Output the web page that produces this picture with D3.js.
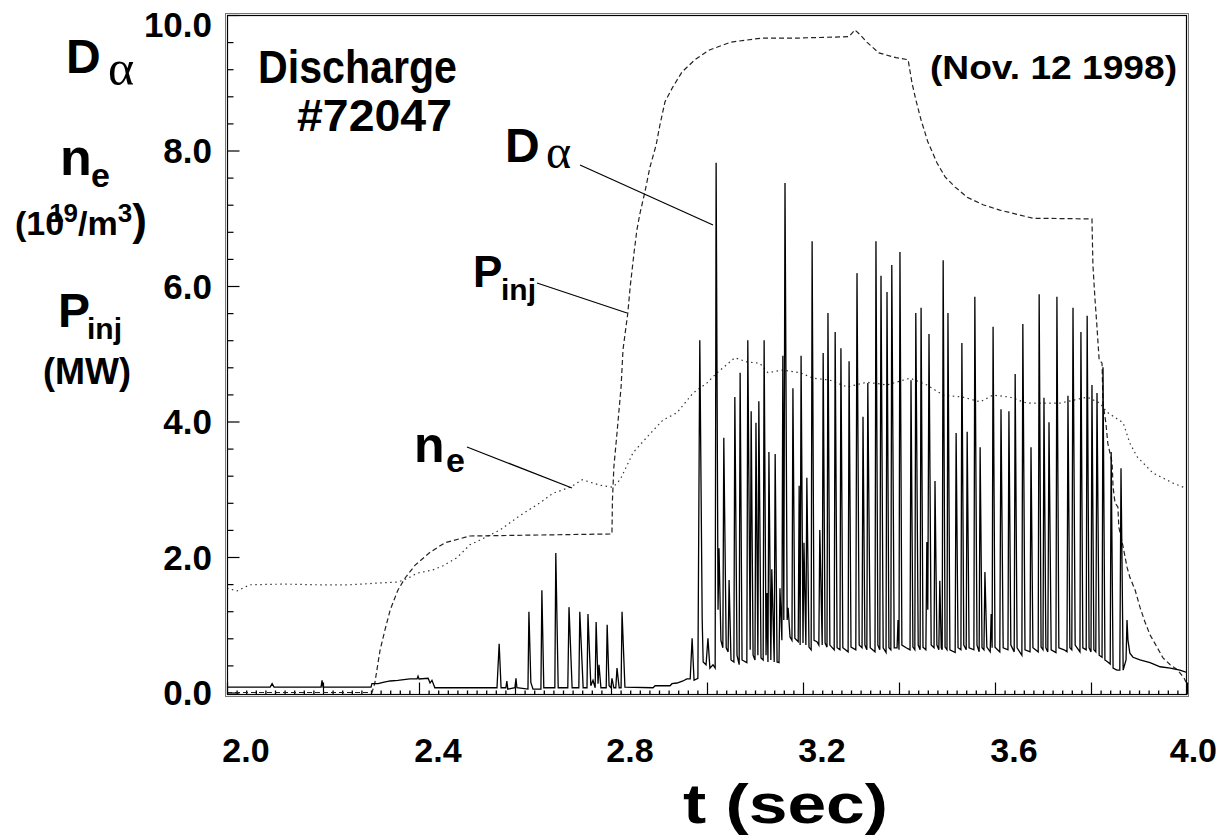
<!DOCTYPE html>
<html>
<head>
<meta charset="utf-8">
<script src="https://cdn.jsdelivr.net/npm/d3@7"></script>
<style>
  body { margin: 0; background: #fff; }
  svg { display: block; }
  text { font-family: "Liberation Sans", Arial, Helvetica, sans-serif; font-weight: bold; fill: #000; }
  .greek { font-family: "Liberation Serif", "DejaVu Serif", serif; font-weight: normal; }
</style>
</head>
<body>
<svg id="chart" width="1218" height="835"></svg>
<script>
// Discharge #72047 — neutral beam power, line-averaged density and D-alpha vs time

// Injected beam power P_inj (MW): [t (s), value]
const pinj = [
  [2.000,0],[2.302,0],[2.308,0.14],[2.319,0.63],[2.329,0.92],[2.340,1.22],[2.356,1.51],
  [2.371,1.69],[2.392,1.88],[2.423,2.07],[2.454,2.21],[2.506,2.31],[2.802,2.34],[2.803,2.84],
  [2.806,3.33],[2.8125,3.83],[2.821,4.51],[2.825,5.06],[2.835,5.60],[2.840,5.99],[2.848,6.49],
  [2.854,6.83],[2.860,7.06],[2.871,7.40],[2.881,7.75],[2.894,8.08],[2.902,8.38],[2.9125,8.72],
  [2.929,8.94],[2.948,9.16],[2.975,9.34],[3.004,9.48],[3.050,9.60],[3.115,9.66],[3.190,9.66],
  [3.296,9.68],[3.308,9.78],[3.319,9.71],[3.333,9.60],[3.358,9.44],[3.394,9.37],[3.419,9.34],
  [3.427,9.00],[3.435,8.75],[3.446,8.45],[3.460,8.13],[3.479,7.82],[3.496,7.61],[3.517,7.46],
  [3.542,7.31],[3.575,7.20],[3.610,7.12],[3.679,7.00],[3.802,6.99],[3.804,6.31],[3.808,5.84],
  [3.8125,5.39],[3.817,4.91],[3.823,4.86],[3.825,4.27],[3.831,3.98],[3.835,3.68],[3.844,3.39],
  [3.846,3.03],[3.850,2.80],[3.856,2.74],[3.858,2.44],[3.867,2.15],[3.875,1.85],[3.881,1.70],
  [3.892,1.51],[3.902,1.26],[3.9125,1.04],[3.923,0.85],[3.9375,0.67],[3.950,0.51],[3.965,0.41],
  [3.981,0.33],[3.994,0.21],[3.998,0.15]
];

// Line-averaged electron density n_e (10^19 m^-3): [t (s), value]
const density = [
  [2.000,1.54],[2.021,1.50],[2.048,1.59],[2.117,1.60],[2.188,1.59],[2.256,1.59],[2.325,1.62],
  [2.356,1.63],[2.375,1.68],[2.396,1.76],[2.429,1.81],[2.450,1.87],[2.479,1.99],[2.506,2.18],
  [2.527,2.25],[2.569,2.40],[2.610,2.61],[2.652,2.80],[2.679,2.94],[2.715,3.03],[2.740,3.14],
  [2.777,3.06],[2.804,3.03],[2.819,3.14],[2.846,3.54],[2.875,3.77],[2.908,4.02],[2.9375,4.13],
  [2.971,4.42],[3.000,4.57],[3.021,4.72],[3.058,4.94],[3.083,4.88],[3.110,4.86],[3.127,4.72],
  [3.158,4.76],[3.194,4.72],[3.221,4.64],[3.256,4.61],[3.292,4.51],[3.333,4.58],[3.375,4.54],
  [3.423,4.64],[3.458,4.54],[3.492,4.39],[3.533,4.36],[3.569,4.29],[3.596,4.39],[3.631,4.36],
  [3.667,4.27],[3.735,4.27],[3.792,4.36],[3.819,4.27],[3.833,4.14],[3.867,3.98],[3.881,3.68],
  [3.896,3.48],[3.929,3.24],[3.971,3.09],[3.996,3.02]
];

// D-alpha emission (a.u.), ELM bursts: [t (s), value]
const dAlpha = [
  [2.000,0.08],[2.090,0.08],[2.094,0.13],[2.098,0.08],[2.196,0.08],[2.198,0.18],[2.200,0.08],
  [2.300,0.08],[2.302,0.13],[2.315,0.13],[2.325,0.15],[2.340,0.17],[2.356,0.18],[2.381,0.20],
  [2.396,0.20],[2.398,0.24],[2.400,0.20],[2.419,0.21],[2.423,0.14],[2.427,0.18],[2.433,0.07],
  [2.5625,0.07],[2.567,0.72],[2.571,0.07],[2.581,0.07],[2.583,0.17],[2.585,0.05],[2.600,0.07],
  [2.602,0.21],[2.604,0.07],[2.627,0.05],[2.629,1.19],[2.633,0.15],[2.6375,0.05],[2.654,0.05],
  [2.656,1.51],[2.660,0.07],[2.683,0.07],[2.685,2.06],[2.690,0.07],[2.710,0.07],[2.7125,1.26],
  [2.719,0.07],[2.733,0.07],[2.735,1.19],[2.742,0.07],[2.750,0.07],[2.752,1.16],[2.758,0.10],
  [2.7625,0.18],[2.767,0.07],[2.769,1.04],[2.773,0.13],[2.775,0.41],[2.779,0.07],[2.790,0.07],
  [2.792,1.00],[2.796,0.10],[2.800,0.07],[2.802,0.21],[2.806,0.07],[2.810,0.07],[2.8125,0.36],
  [2.817,0.07],[2.821,0.07],[2.823,1.19],[2.829,0.08],[2.8875,0.07],[2.892,0.10],[2.923,0.10],
  [2.927,0.13],[2.9375,0.14],[2.950,0.17],[2.958,0.20],[2.965,0.20],[2.969,0.80],[2.973,0.18],
  [2.981,0.21],[2.985,5.20],[2.990,1.07],[2.992,0.45],[2.998,0.41],[3.002,0.80],[3.006,0.36],
  [3.0125,0.41],[3.017,0.36],[3.019,7.82],[3.023,1.22],[3.025,2.13],[3.029,0.77],[3.033,0.66],
  [3.035,3.76],[3.040,0.66],[3.044,0.60],[3.046,1.66],[3.050,0.48],[3.056,0.45],[3.058,4.36],
  [3.0625,0.55],[3.067,0.41],[3.069,4.72],[3.073,0.48],[3.083,0.44],[3.085,5.20],[3.090,0.63],
  [3.092,4.15],[3.096,0.55],[3.100,0.48],[3.102,3.98],[3.106,0.55],[3.108,4.30],[3.1125,0.51],
  [3.117,0.48],[3.119,5.20],[3.123,0.55],[3.125,1.47],[3.127,0.45],[3.129,3.55],[3.133,0.48],
  [3.135,1.82],[3.140,0.45],[3.142,3.52],[3.146,0.45],[3.150,0.44],[3.152,1.54],[3.156,0.77],
  [3.158,4.97],[3.160,1.07],[3.1625,7.52],[3.167,1.07],[3.169,1.25],[3.173,0.82],[3.177,0.77],
  [3.179,4.49],[3.183,0.80],[3.190,0.75],[3.192,3.05],[3.194,0.70],[3.196,4.97],[3.200,0.73],
  [3.202,2.21],[3.206,0.70],[3.208,3.17],[3.2125,0.67],[3.217,0.63],[3.219,6.66],[3.223,0.77],
  [3.229,0.75],[3.233,0.70],[3.235,2.40],[3.240,0.70],[3.242,5.01],[3.246,0.73],[3.250,0.67],
  [3.252,5.60],[3.256,0.70],[3.265,0.63],[3.267,5.32],[3.271,0.66],[3.277,0.63],[3.279,5.08],
  [3.283,0.66],[3.294,0.60],[3.296,4.89],[3.300,0.67],[3.310,0.63],[3.3125,6.19],[3.317,0.70],
  [3.323,0.66],[3.325,4.07],[3.329,0.70],[3.333,0.63],[3.335,4.57],[3.340,0.66],[3.350,0.60],
  [3.352,6.66],[3.356,0.70],[3.360,0.63],[3.3625,6.15],[3.367,0.66],[3.373,0.59],[3.375,5.91],
  [3.379,0.66],[3.383,0.63],[3.385,6.31],[3.390,0.66],[3.396,0.66],[3.398,1.07],[3.400,0.63],
  [3.402,6.50],[3.406,0.70],[3.415,0.66],[3.423,0.63],[3.425,4.61],[3.429,0.67],[3.433,0.63],
  [3.435,5.60],[3.440,0.70],[3.444,0.63],[3.446,5.68],[3.450,0.67],[3.456,0.63],[3.458,2.22],
  [3.460,1.22],[3.4625,5.29],[3.467,0.70],[3.473,0.66],[3.475,3.12],[3.479,0.70],[3.483,0.63],
  [3.485,1.65],[3.488,0.66],[3.490,0.63],[3.492,6.38],[3.496,0.67],[3.500,0.63],[3.502,5.60],
  [3.506,0.63],[3.517,0.59],[3.519,3.83],[3.523,0.66],[3.529,0.63],[3.531,5.16],[3.535,0.70],
  [3.540,0.63],[3.542,3.85],[3.546,0.66],[3.556,0.63],[3.558,5.84],[3.5625,0.70],[3.567,0.60],
  [3.569,3.62],[3.573,0.66],[3.577,0.63],[3.579,1.78],[3.583,0.67],[3.590,0.60],[3.592,1.16],
  [3.594,0.66],[3.596,5.40],[3.600,0.67],[3.610,0.60],[3.6125,4.18],[3.617,0.66],[3.627,0.63],
  [3.629,4.15],[3.633,0.70],[3.640,0.60],[3.642,4.70],[3.646,0.66],[3.656,0.55],[3.658,5.44],
  [3.6625,0.63],[3.673,0.60],[3.675,3.62],[3.679,0.66],[3.690,0.60],[3.692,5.88],[3.696,0.67],
  [3.700,0.63],[3.702,4.35],[3.706,0.66],[3.710,0.60],[3.7125,3.99],[3.717,0.63],[3.727,0.59],
  [3.729,5.84],[3.733,0.66],[3.744,0.63],[3.750,0.60],[3.752,4.38],[3.756,0.66],[3.760,0.63],
  [3.7625,5.68],[3.767,0.70],[3.777,0.60],[3.779,5.32],[3.783,0.66],[3.790,0.63],[3.792,5.56],
  [3.796,0.66],[3.800,0.60],[3.802,4.54],[3.806,0.63],[3.810,0.60],[3.8125,4.42],[3.817,0.55],
  [3.823,0.52],[3.825,4.80],[3.829,0.48],[3.835,0.45],[3.840,0.42],[3.842,3.55],[3.846,0.36],
  [3.854,0.33],[3.860,0.33],[3.8625,3.31],[3.867,0.33],[3.873,0.48],[3.875,1.07],[3.877,0.77],
  [3.881,0.58],[3.8875,0.52],[3.902,0.48],[3.923,0.44],[3.944,0.38],[3.965,0.36],[3.985,0.33],
  [3.998,0.30]
];

// Axis ticks and labels
const xMajorTicks = [2.0, 2.2, 2.4, 2.6, 2.8, 3.0, 3.2, 3.4, 3.6, 3.8, 4.0];
const xLabelValues = [2.0, 2.4, 2.8, 3.2, 3.6, 4.0];
const xTickLabels = ["2.0", "2.4", "2.8", "3.2", "3.6", "4.0"];
const yMajorTicks = [0, 2, 4, 6, 8, 10];
const yTickLabels = ["0.0", "2.0", "4.0", "6.0", "8.0", "10.0"];

const svg = d3.select("#chart");
const x = d3.scaleLinear().domain([2, 4]).range([227, 1187]);
const y = d3.scaleLinear().domain([0, 10]).range([692.5, 15]);

// frame (double line)
svg.append("rect").attr("x", 225.5).attr("y", 13.5).attr("width", 963).attr("height", 683)
  .attr("fill", "none").attr("stroke", "#777").attr("stroke-width", 1);
svg.append("rect").attr("x", 227.5).attr("y", 15.5).attr("width", 959).attr("height", 679)
  .attr("fill", "none").attr("stroke", "#000").attr("stroke-width", 1.2);

// y ticks (pointing into the plot)
const yMinor = d3.range(0, 10.001, 0.4).filter(v => !yMajorTicks.some(m => Math.abs(m - v) < 1e-6));
svg.append("g").attr("transform", "translate(227.5,0)")
  .call(d3.axisRight(y).tickValues(yMinor).tickSize(6).tickFormat(""))
  .call(g => g.select(".domain").remove())
  .selectAll("line").attr("stroke", "#000").attr("stroke-width", 1.2);
svg.append("g").attr("transform", "translate(227.5,0)")
  .call(d3.axisRight(y).tickValues(yMajorTicks).tickSize(12).tickFormat(""))
  .call(g => g.select(".domain").remove())
  .selectAll("line").attr("stroke", "#000").attr("stroke-width", 1.2);

// x ticks (pointing up from the bottom edge)
const xMinor = d3.range(2, 4.0001, 0.02).filter(v => !xMajorTicks.some(m => Math.abs(m - v) < 1e-6));
svg.append("g").attr("transform", "translate(0,694.5)")
  .call(d3.axisTop(x).tickValues(xMinor).tickSize(4).tickFormat(""))
  .call(g => g.select(".domain").remove())
  .selectAll("line").attr("stroke", "#000").attr("stroke-width", 1.3);
svg.append("g").attr("transform", "translate(0,694.5)")
  .call(d3.axisTop(x).tickValues(xMajorTicks).tickSize(12).tickFormat(""))
  .call(g => g.select(".domain").remove())
  .selectAll("line").attr("stroke", "#000").attr("stroke-width", 1.2);

// y tick labels
svg.append("g").selectAll("text").data(yMajorTicks).join("text")
  .attr("x", 212).attr("y", d => d === 10 ? y(d) + 9 : y(d))
  .attr("dy", "0.36em").attr("text-anchor", "end").attr("font-size", 35)
  .text((d, i) => yTickLabels[i]);

// x tick labels (the last one kept inside the page edge)
svg.append("g").selectAll("text").data(xLabelValues).join("text")
  .attr("x", (d, i) => i === xLabelValues.length - 1 ? 1217 : x(d) + 19)
  .attr("y", 762)
  .attr("text-anchor", (d, i) => i === xLabelValues.length - 1 ? "end" : "middle")
  .attr("font-size", 34)
  .text((d, i) => xTickLabels[i]);

// x axis title
svg.append("text").attr("x", 683).attr("y", 823)
  .attr("font-size", 56).attr("textLength", 205).attr("lengthAdjust", "spacingAndGlyphs")
  .text("t (sec)");

// traces
svg.append("clipPath").attr("id", "plotArea")
  .append("rect").attr("x", 228).attr("y", 16).attr("width", 958).attr("height", 678);
const line = d3.line().x(d => x(d[0])).y(d => y(d[1]));
const plot = svg.append("g").attr("clip-path", "url(#plotArea)");
plot.append("path").datum(density).attr("d", line).attr("fill", "none")
  .attr("stroke", "#333").attr("stroke-width", 1.2).attr("stroke-dasharray", "1.5,3.5");
plot.append("path").datum(pinj).attr("d", line).attr("fill", "none")
  .attr("stroke", "#222").attr("stroke-width", 1.2).attr("stroke-dasharray", "5,3");
plot.append("path").datum(dAlpha).attr("d", line).attr("fill", "none")
  .attr("stroke", "#000").attr("stroke-width", 1.3).attr("stroke-linejoin", "miter");

// leader lines from the trace labels
const leaders = [
  [[580, 165], [713, 225]],
  [[537, 283], [627, 313]],
  [[467, 447], [572, 488]]
];
svg.append("g").selectAll("line").data(leaders).join("line")
  .attr("x1", d => d[0][0]).attr("y1", d => d[0][1])
  .attr("x2", d => d[1][0]).attr("y2", d => d[1][1])
  .attr("stroke", "#000").attr("stroke-width", 1.2);

// in-plot annotations
svg.append("text").attr("x", 258).attr("y", 83).attr("font-size", 46)
  .attr("textLength", 199).attr("lengthAdjust", "spacingAndGlyphs").text("Discharge");
svg.append("text").attr("x", 297).attr("y", 131).attr("font-size", 45)
  .attr("textLength", 155).attr("lengthAdjust", "spacingAndGlyphs").text("#72047");
svg.append("text").attr("x", 930).attr("y", 79).attr("font-size", 33)
  .attr("textLength", 247).attr("lengthAdjust", "spacingAndGlyphs").text("(Nov. 12 1998)");

svg.append("text").attr("x", 505).attr("y", 162).attr("font-size", 48).text("D");
svg.append("text").attr("x", 546).attr("y", 168).attr("font-size", 48).attr("class", "greek").text("α");
svg.append("text").attr("x", 473).attr("y", 287).attr("font-size", 44).text("P");
svg.append("text").attr("x", 501).attr("y", 300).attr("font-size", 30).text("inj");
svg.append("text").attr("x", 414).attr("y", 462).attr("font-size", 50).text("n");
svg.append("text").attr("x", 446).attr("y", 472).attr("font-size", 34).text("e");

// y axis title block
svg.append("text").attr("x", 66).attr("y", 73).attr("font-size", 48).text("D");
svg.append("text").attr("x", 108).attr("y", 85).attr("font-size", 50).attr("class", "greek").text("α");
svg.append("text").attr("x", 60).attr("y", 175).attr("font-size", 52).text("n");
svg.append("text").attr("x", 91).attr("y", 187).attr("font-size", 34).text("e");
const unitN = svg.append("text").attr("x", 15).attr("y", 235).attr("font-size", 34);
unitN.append("tspan").text("(10");
unitN.append("tspan").attr("dx", -15).attr("dy", -13).attr("font-size", 26).text("19");
unitN.append("tspan").attr("dy", 13).text("/m");
unitN.append("tspan").attr("dy", -13).attr("font-size", 26).text("3");
unitN.append("tspan").attr("dy", 13).attr("font-size", 44).text(")");
svg.append("text").attr("x", 58).attr("y", 327).attr("font-size", 48).text("P");
svg.append("text").attr("x", 87).attr("y", 339).attr("font-size", 30).text("inj");
svg.append("text").attr("x", 87).attr("y", 384).attr("text-anchor", "middle").attr("font-size", 36).text("(MW)");
</script>
</body>
</html>
